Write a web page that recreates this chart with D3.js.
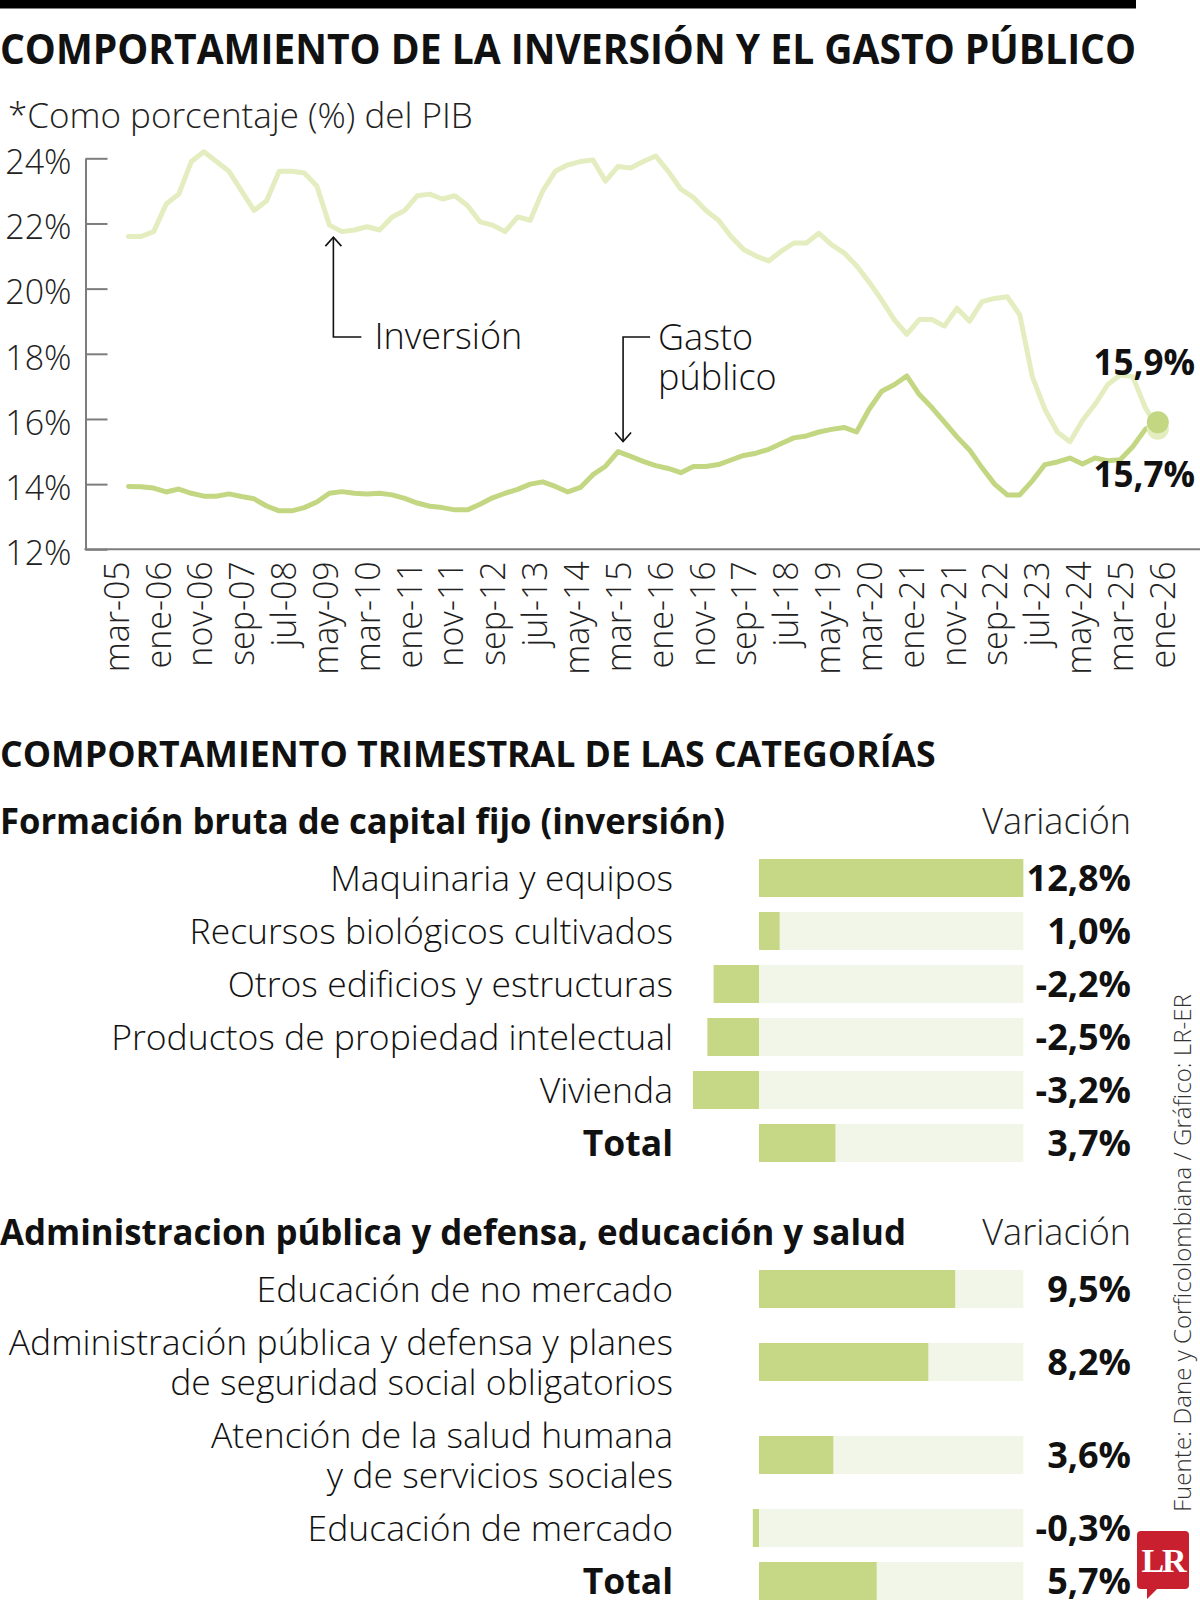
<!DOCTYPE html>
<html><head><meta charset="utf-8">
<script src="https://cdn.jsdelivr.net/npm/d3@7"></script>
<style>
body{margin:0;background:#fff;}
svg text{font-family:"Open Sans",sans-serif;}
</style></head><body>
<svg id="c" width="1200" height="1607"></svg>
<script>
// ---------- DATA ----------
const title = "COMPORTAMIENTO DE LA INVERSIÓN Y EL GASTO PÚBLICO";
const subtitle = "*Como porcentaje (%) del PIB";
const yTicks = [12,14,16,18,20,22,24];
const tickLabels = ["mar-05","ene-06","nov-06","sep-07","jul-08","may-09","mar-10","ene-11","nov-11","sep-12","jul-13","may-14","mar-15","ene-16","nov-16","sep-17","jul-18","may-19","mar-20","ene-21","nov-21","sep-22","jul-23","may-24","mar-25","ene-26"];
// quarterly, jun-05 ... dic-25 (% of GDP)
const inversion = [21.6,21.6,21.75,22.6,22.9,23.9,24.2,23.9,23.6,23.0,22.4,22.7,23.6,23.6,23.55,23.15,21.95,21.75,21.8,21.9,21.8,22.2,22.4,22.85,22.9,22.75,22.85,22.55,22.05,21.95,21.75,22.2,22.1,23.0,23.6,23.8,23.9,23.95,23.3,23.75,23.7,23.9,24.07,23.6,23.05,22.8,22.4,22.1,21.6,21.2,21.0,20.85,21.15,21.4,21.4,21.7,21.35,21.1,20.7,20.2,19.65,19.05,18.6,19.05,19.05,18.85,19.4,19.0,19.6,19.7,19.75,19.2,17.3,16.3,15.6,15.3,15.95,16.45,17.05,17.35,17.3,16.35,15.7];
const gasto = [13.93,13.92,13.88,13.76,13.85,13.72,13.63,13.63,13.7,13.62,13.55,13.33,13.18,13.18,13.28,13.45,13.72,13.77,13.72,13.7,13.72,13.67,13.56,13.42,13.32,13.28,13.21,13.21,13.38,13.58,13.72,13.84,14.0,14.07,13.93,13.76,13.9,14.29,14.55,15.0,14.85,14.7,14.57,14.48,14.35,14.54,14.54,14.6,14.74,14.88,14.95,15.07,15.25,15.42,15.48,15.6,15.68,15.74,15.6,16.3,16.85,17.05,17.32,16.75,16.35,15.9,15.45,15.05,14.5,14.0,13.67,13.67,14.1,14.6,14.68,14.8,14.62,14.8,14.72,14.75,15.15,15.68,15.9];
const endLabels = ["15,9%","15,7%"];

const section2Title = "COMPORTAMIENTO TRIMESTRAL DE LAS CATEGORÍAS";
const invTitle = "Formación bruta de capital fijo (inversión)";
const invCategories = [["Maquinaria y equipos"],["Recursos biológicos cultivados"],["Otros edificios y estructuras"],["Productos de propiedad intelectual"],["Vivienda"],["Total"]];
const invValues = [12.8,1.0,-2.2,-2.5,-3.2,3.7];
const govTitle = "Administracion pública y defensa, educación y salud";
const govCategories = [["Educación de no mercado"],["Administración pública y defensa y planes","de seguridad social obligatorios"],["Atención de la salud humana","y de servicios sociales"],["Educación de mercado"],["Total"]];
const govValues = [9.5,8.2,3.6,-0.3,5.7];
const source = "Fuente: Dane y Corficolombiana / Gráfico: LR-ER";

// ---------- STYLE ----------
const C_INV = "#e4edc0", C_GAS = "#c3d783", C_BAR = "#c6d886", C_BG = "#f1f6e9", C_AX = "#7d7d7d";
const svg = d3.select("#c");
const fmt = v => d3.format(".1f")(v).replace(".",",").replace("−","-") + "%";
function fitWidth(sel, w){ const L = sel.node().getComputedTextLength(); sel.attr("font-size", parseFloat(sel.attr("font-size"))*w/L); return sel; }
function squeeze(sel, w){ const L = sel.node().getComputedTextLength(); if (L > w) sel.attr("textLength", w).attr("lengthAdjust","spacingAndGlyphs"); else fitWidth(sel, w); return sel; }

// top rule
svg.append("rect").attr("x",0).attr("y",0).attr("width",1136).attr("height",8.5).attr("fill","#000");
squeeze(svg.append("text").attr("x",0).attr("y",64).attr("font-weight",700).attr("font-size",41).attr("fill","#111").text(title),1136);
svg.append("text").attr("x",8).attr("y",128).attr("font-weight",300).attr("font-size",35).attr("fill","#222").text(subtitle);

// ---------- LINE CHART ----------
const firstMonth = 5, step = 3; // months since ene-05
const tickMonths = tickLabels.map((d,i)=>2+10*i);
const x = d3.scaleLinear().domain([tickMonths[0], tickMonths[tickMonths.length-1]]).range([116,1162]);
const y = d3.scaleLinear().domain([12,24]).range([549.3,158.3]);
const mx = i => x(firstMonth+step*i);

const yAxis = svg.append("g").attr("transform","translate(85.5,0)")
  .call(d3.axisLeft(y).tickValues(yTicks).tickSize(-22).tickSizeOuter(0).tickPadding(14).tickFormat(d=>d+"%"));
yAxis.selectAll("path,line").attr("stroke",C_AX).attr("stroke-width",2);
yAxis.selectAll("text").attr("font-size",34).attr("font-weight",300).attr("fill","#222").attr("dy","0.45em");

svg.append("line").attr("x1",84.5).attr("x2",1200).attr("y1",y(12)).attr("y2",y(12)).attr("stroke",C_AX).attr("stroke-width",2);

const xAxis = svg.append("g").attr("transform",`translate(0,${y(12)})`)
  .call(d3.axisBottom(x).tickValues(tickMonths).tickSize(0).tickFormat((d,i)=>tickLabels[i]));
xAxis.select(".domain").remove();
xAxis.selectAll("text").attr("font-size",34).attr("font-weight",300).attr("fill","#222")
  .attr("text-anchor","end").attr("transform","rotate(-90)").attr("x",-12).attr("y",0).attr("dy","0.36em");

const line = d3.line().x((d,i)=>mx(i)).y(d=>y(d)).curve(d3.curveLinear);
svg.append("path").datum(inversion).attr("d",line).attr("fill","none").attr("stroke",C_INV).attr("stroke-width",5).attr("stroke-linejoin","round").attr("stroke-linecap","round");
svg.append("path").datum(gasto).attr("d",line).attr("fill","none").attr("stroke",C_GAS).attr("stroke-width",5).attr("stroke-linejoin","round").attr("stroke-linecap","round");
const last = inversion.length-1;
svg.append("circle").attr("cx",mx(last)).attr("cy",y(inversion[last])).attr("r",11).attr("fill",C_INV);
svg.append("circle").attr("cx",mx(last)).attr("cy",y(gasto[last])).attr("r",11).attr("fill",C_GAS);
svg.append("text").attr("x",1195).attr("y",y(gasto[last])-47).attr("text-anchor","end").attr("font-weight",700).attr("font-size",35).attr("fill","#111").text(endLabels[0]);
svg.append("text").attr("x",1195).attr("y",y(inversion[last])+58).attr("text-anchor","end").attr("font-weight",700).attr("font-size",35).attr("fill","#111").text(endLabels[1]);

// annotations
const ann = svg.append("g").attr("fill","none").attr("stroke","#111").attr("stroke-width",1.6);
{ const i=16, ax=mx(i)+4, tip=y(inversion[i])+12, ly=337;
  ann.append("path").attr("d",`M${ax+28},${ly}H${ax}V${tip}`);
  ann.append("path").attr("d",`M${ax-8},${tip+9}L${ax},${tip}L${ax+8},${tip+9}`);
  svg.append("text").attr("x",ax+41).attr("y",349).attr("font-weight",300).attr("font-size",36).attr("fill","#111").text("Inversión"); }
{ const i=39, ax=mx(i)+5, tip=y(gasto[i])-10, ly=337;
  ann.append("path").attr("d",`M${ax+27},${ly}H${ax}V${tip}`);
  ann.append("path").attr("d",`M${ax-8},${tip-9}L${ax},${tip}L${ax+8},${tip-9}`);
  const t = svg.append("text").attr("font-weight",300).attr("font-size",36).attr("fill","#111");
  t.append("tspan").attr("x",ax+35).attr("y",350).text("Gasto");
  t.append("tspan").attr("x",ax+35).attr("y",390).text("público"); }

// ---------- BAR SECTIONS ----------
squeeze(svg.append("text").attr("x",0).attr("y",767).attr("font-weight",700).attr("font-size",35).attr("fill","#111").text(section2Title),936);

const bx = d3.scaleLinear().domain([0, d3.max(invValues.concat(govValues))]).range([759,1023.3]);
const BAR_H = 38, ROW = 53, LINE_H = 40;

function section(titleText, titleW, titleY, cats, vals, firstTop){
  squeeze(svg.append("text").attr("x",0).attr("y",titleY).attr("font-weight",700).attr("font-size",35).attr("fill","#111").text(titleText), titleW);
  svg.append("text").attr("x",1131).attr("y",titleY).attr("text-anchor","end").attr("font-weight",300).attr("font-size",36).attr("fill","#222").text("Variación");
  let top = firstTop, prevExtra = 0;
  cats.forEach((lines,i)=>{
    const extra = (lines.length-1)*LINE_H/2;
    if(i>0) top += ROW + prevExtra + extra;
    prevExtra = extra;
    const cy = top + BAR_H/2;
    const g = svg.append("g");
    g.append("rect").attr("x",bx(0)).attr("y",top).attr("width",bx(bx.domain()[1])-bx(0)).attr("height",BAR_H).attr("fill",C_BG);
    const v = vals[i];
    g.append("rect").attr("x",bx(Math.min(0,v))).attr("y",top).attr("width",Math.abs(bx(v)-bx(0))).attr("height",BAR_H).attr("fill",C_BAR);
    const isTotal = lines[0]==="Total";
    const t = g.append("text").attr("text-anchor","end").attr("font-size",35.5).attr("font-weight",isTotal?700:300).attr("fill","#111");
    lines.forEach((ln,k)=>{
      t.append("tspan").attr("x",673).attr("y",cy + (k-(lines.length-1)/2)*LINE_H).attr("dy","0.36em").text(ln);
    });
    g.append("text").attr("x",1131).attr("y",cy).attr("dy","0.36em").attr("text-anchor","end").attr("font-size",36).attr("font-weight",700).attr("fill","#111").text(fmt(v));
  });
}
section(invTitle, 725, 834, invCategories, invValues, 859);
section(govTitle, 906, 1245, govCategories, govValues, 1270);

// source
const src = svg.append("text").attr("transform","translate(1191,1512) rotate(-90)").attr("font-weight",300).attr("font-size",23).attr("fill","#333").text(source);
fitWidth(src,518);

// LR logo
const lg = svg.append("g").attr("transform","translate(1137,1531)");
lg.append("path").attr("d","M4,0H48Q52,0 52,4V54Q52,58 48,58H20L10,68V58H4Q0,58 0,54V4Q0,0 4,0Z").attr("fill","#c8202f");
lg.append("text").attr("x",26).attr("y",41).attr("text-anchor","middle").style("font-family","'Liberation Serif','DejaVu Serif',serif").attr("font-weight",700).attr("font-size",34).attr("fill","#fff").attr("letter-spacing",-2).text("LR");
</script>
</body></html>
